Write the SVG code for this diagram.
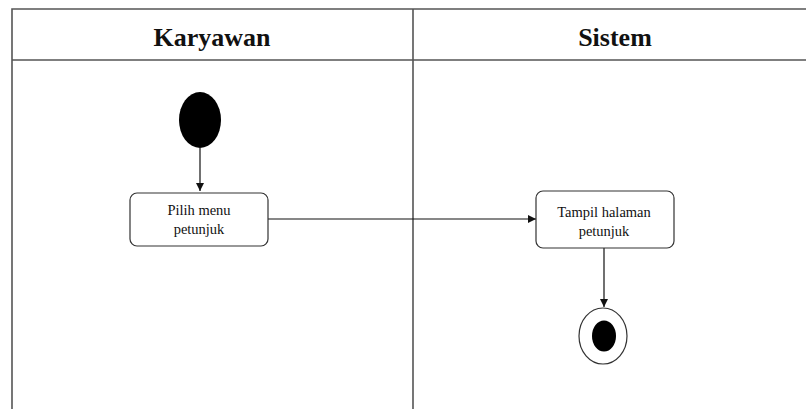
<svg xmlns="http://www.w3.org/2000/svg" width="806" height="409" viewBox="0 0 806 409">
<style>
.lane{fill:none;stroke:#555;stroke-width:1.6}
.hdr{font-family:"Liberation Serif",serif;font-weight:bold;font-size:26px;fill:#111;text-anchor:middle}
.box{fill:#fff;stroke:#333;stroke-width:1.2}
.lbl{font-family:"Liberation Serif",serif;font-size:14.5px;fill:#111;text-anchor:middle}
.edge{fill:none;stroke:#111;stroke-width:1.2}
</style>
<defs>
<marker id="arr" viewBox="0 0 10 10" refX="10" refY="5" markerWidth="8" markerHeight="8" markerUnits="userSpaceOnUse" orient="auto">
<path d="M0,0 L10,5 L0,10 Z" fill="#111"/>
</marker>
</defs>
<rect width="806" height="409" fill="#fff"/>
<g id="swimlanes">
<path class="lane" d="M12,409 V9 H810 M12,60 H810 M413,9 V409"/>
<text class="hdr" x="212" y="46">Karyawan</text>
<text class="hdr" x="615" y="46">Sistem</text>
</g>
<g id="connectors">
<path class="edge" d="M200,148 V191" marker-end="url(#arr)"/>
<path class="edge" d="M268,219 H536" marker-end="url(#arr)"/>
<path class="edge" d="M604,248 V307" marker-end="url(#arr)"/>
</g>
<g id="start">
<ellipse cx="200" cy="120" rx="21" ry="28" fill="#000"/>
</g>
<g id="pilih">
<rect class="box" x="130" y="193" width="138" height="53" rx="7"/>
<text class="lbl" x="199" y="215">Pilih menu</text>
<text class="lbl" x="199" y="234">petunjuk</text>
</g>
<g id="tampil">
<rect class="box" x="536" y="191" width="138" height="57" rx="7"/>
<text class="lbl" x="604" y="217">Tampil halaman</text>
<text class="lbl" x="604" y="236">petunjuk</text>
</g>
<g id="end">
<ellipse cx="603" cy="336" rx="24" ry="28" fill="#fff" stroke="#333" stroke-width="1.2"/>
<ellipse cx="604" cy="336" rx="12" ry="15.5" fill="#000"/>
</g>
</svg>
